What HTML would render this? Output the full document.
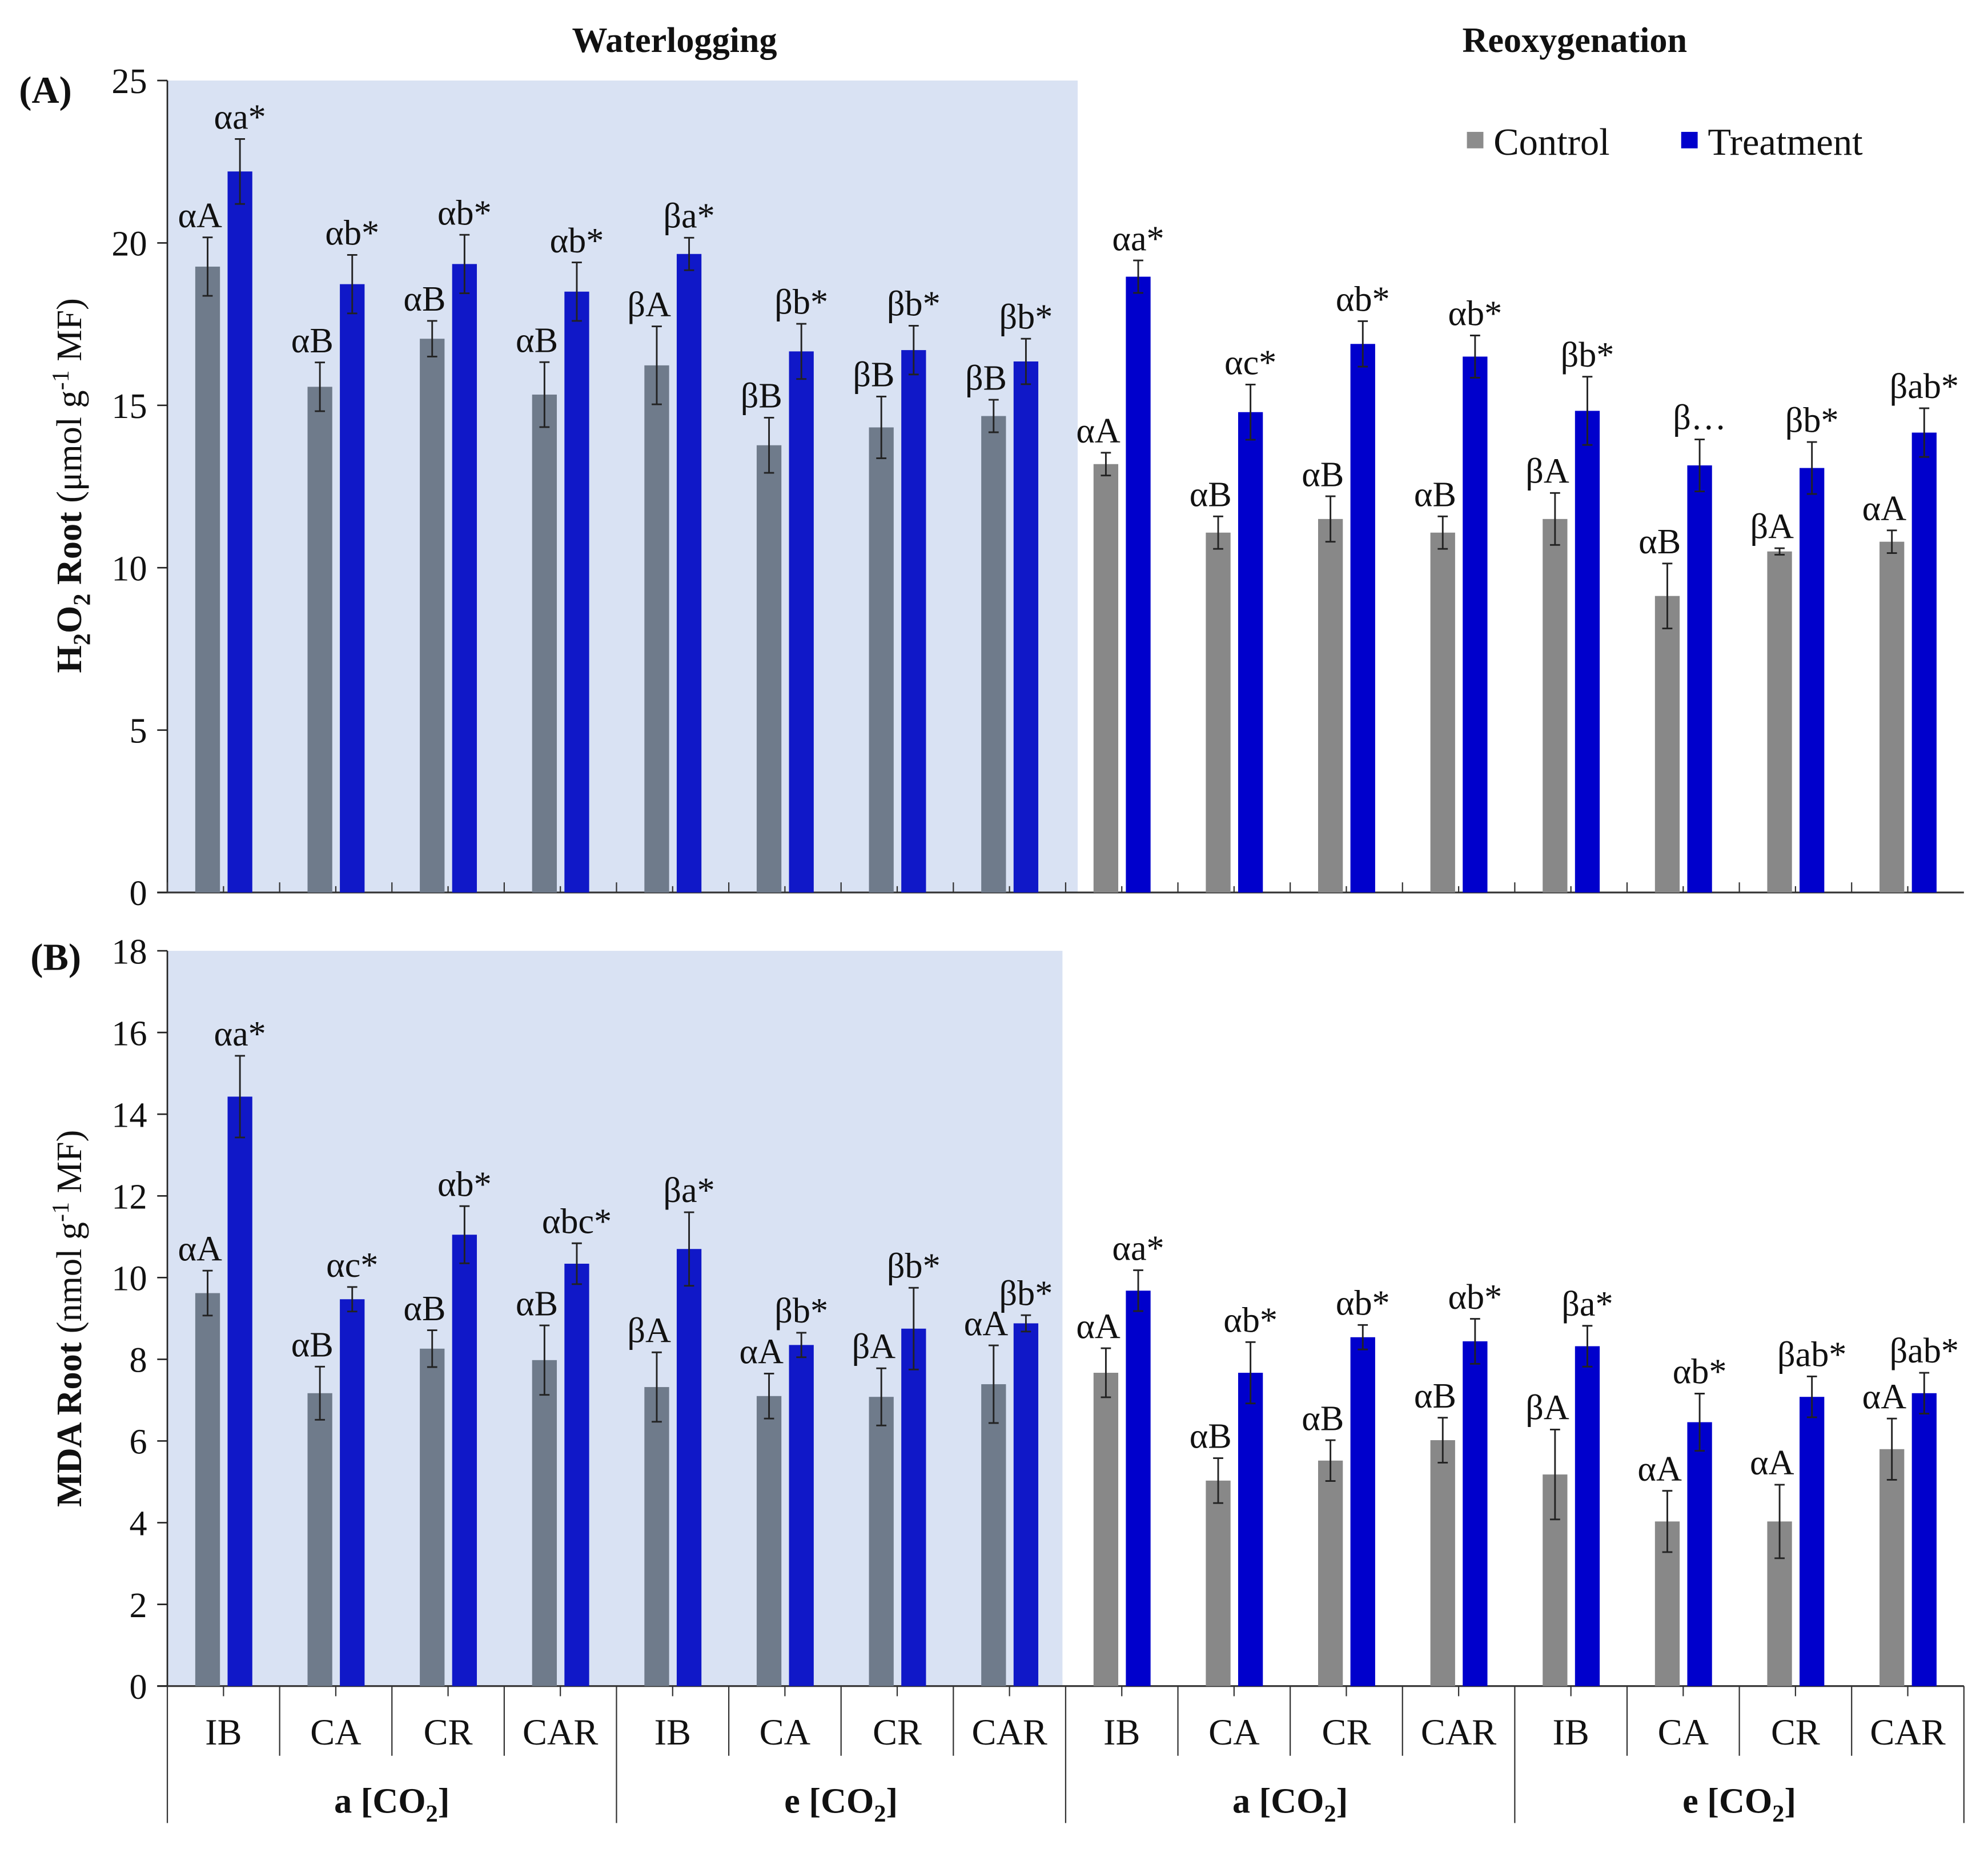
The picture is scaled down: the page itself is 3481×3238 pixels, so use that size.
<!DOCTYPE html>
<html><head><meta charset="utf-8"><style>
html,body{margin:0;padding:0;background:#fff;}
svg{display:block;font-family:"Liberation Serif",serif;}
</style></head><body>
<svg id="chart" width="3481" height="3238" viewBox="0 0 1568 1458.5" xmlns="http://www.w3.org/2000/svg">
<rect x="0" y="0" width="1568" height="1458.5" fill="#fff"/>
<g id="root"></g>
</svg>
<script>
const categories = ["IB","CA","CR","CAR","IB","CA","CR","CAR","IB","CA","CR","CAR","IB","CA","CR","CAR"];
const groupLabels = ["a", "e", "a", "e"];
const yTicksA = [0,5,10,15,20,25];
const yTicksB = [0,2,4,6,8,10,12,14,16,18];
const h2o2Control = [19.27,15.57,17.05,15.33,16.23,13.77,14.32,14.67,13.19,11.08,11.5,11.08,11.5,9.13,10.5,10.8];
const h2o2ControlErr = [0.9,0.75,0.55,1.0,1.2,0.85,0.95,0.5,0.35,0.5,0.7,0.5,0.8,1.0,0.1,0.35];
const h2o2Treat = [22.2,18.73,19.35,18.5,19.66,16.66,16.7,16.35,18.96,14.79,16.89,16.5,14.83,13.15,13.07,14.16];
const h2o2TreatErr = [1.0,0.9,0.9,0.9,0.5,0.85,0.75,0.7,0.5,0.85,0.7,0.65,1.05,0.8,0.8,0.75];
const h2o2CtrlLabels = ["αA","αB","αB","αB","βA","βB","βB","βB","αA","αB","αB","αB","βA","αB","βA","αA"];
const h2o2TreatLabels = ["αa*","αb*","αb*","αb*","βa*","βb*","βb*","βb*","αa*","αc*","αb*","αb*","βb*","β…","βb*","βab*"];
const mdaControl = [9.62,7.17,8.26,7.98,7.32,7.1,7.08,7.39,7.67,5.03,5.52,6.02,5.18,4.03,4.03,5.8];
const mdaControlErr = [0.55,0.65,0.45,0.85,0.85,0.55,0.7,0.95,0.6,0.55,0.5,0.55,1.1,0.75,0.9,0.75];
const mdaTreat = [14.43,9.47,11.05,10.34,10.7,8.35,8.75,8.88,9.68,7.67,8.54,8.44,8.32,6.46,7.08,7.17];
const mdaTreatErr = [1.0,0.3,0.7,0.5,0.9,0.3,1.0,0.2,0.5,0.75,0.3,0.55,0.5,0.7,0.5,0.5];
const mdaCtrlLabels = ["αA","αB","αB","αB","βA","αA","βA","αA","αA","αB","αB","αB","βA","αA","αA","αA"];
const mdaTreatLabels = ["αa*","αc*","αb*","αbc*","βa*","βb*","βb*","βb*","αa*","αb*","αb*","αb*","βa*","αb*","βab*","βab*"];

const NS="http://www.w3.org/2000/svg";
const root=document.getElementById('root');
function el(tag,attrs,parent){const e=document.createElementNS(NS,tag);for(const k in attrs)e.setAttribute(k,attrs[k]);(parent||root).appendChild(e);return e;}
const X0=132, X1=1549, catW=(X1-X0)/categories.length;
function xCat(i){return X0+i*catW;}

function panel(cfg){
  const g=el('g',{});
  
  
  const y=v=>cfg.y0-(v/cfg.max)*(cfg.y0-cfg.yTop);
  const shade=el('rect',{x:X0,y:cfg.yTop,width:cfg.shadeRight-X0,height:cfg.y0-cfg.yTop,fill:'#d9e2f3'},g);
  
  
  el('line',{x1:X0,y1:cfg.yTop,x2:X0,y2:cfg.y0,stroke:'#222','stroke-width':1.2},g);
  el('line',{x1:X0-8,y1:cfg.y0,x2:X1,y2:cfg.y0,stroke:'#333','stroke-width':1.4},g);
  cfg.ticks.forEach(t=>{
    el('line',{x1:X0-8,y1:y(t),x2:X0,y2:y(t),stroke:'#222','stroke-width':1.2},g);
    const tx=el('text',{x:X0-16,y:y(t)+10,'font-size':28,'text-anchor':'end',fill:'#111'},g);
    tx.textContent=t;
    
    
  });
  for(let i=0;i<categories.length;i++){
    const c=xCat(i);
    const gx=c+22, bx=c+47.5, bw=19.5;
    const ctrlCol = i<8 ? '#6f7b8b' : '#888888';
    const treatCol = i<8 ? '#1018c8' : '#0000cc';
    const r1=el('rect',{x:gx,y:y(cfg.ctrl[i]),width:bw,height:cfg.y0-y(cfg.ctrl[i]),fill:ctrlCol},g);
    
    
    const r2=el('rect',{x:bx,y:y(cfg.treat[i]),width:bw,height:cfg.y0-y(cfg.treat[i]),fill:treatCol},g);
    
    
    [[gx+bw/2,cfg.ctrl[i],cfg.ctrlErr[i],cfg.ctrlLab[i],-6],[bx+bw/2,cfg.treat[i],cfg.treatErr[i],cfg.treatLab[i],0]].forEach(([cx,v,e,lab,off])=>{
      const eg=el('g',{stroke:'#222','stroke-width':1.3},g);
      
      
      el('line',{x1:cx,y1:y(v+e),x2:cx,y2:y(v-e)},eg);
      el('line',{x1:cx-4,y1:y(v+e),x2:cx+4,y2:y(v+e)},eg);
      el('line',{x1:cx-4,y1:y(v-e),x2:cx+4,y2:y(v-e)},eg);
      const t=el('text',{x:cx+off,y:y(v+e)-8,'font-size':28,'text-anchor':'middle',fill:'#111'},g);
      t.textContent=lab;
      
      
    });
    if(cfg.innerTicks){
      el('line',{x1:c,y1:cfg.y0,x2:c,y2:cfg.y0-8,stroke:'#333','stroke-width':1},g);
      el('line',{x1:c+catW/2,y1:cfg.y0,x2:c+catW/2,y2:cfg.y0-5,stroke:'#333','stroke-width':1},g);
    }
  }
  return y;
}

panel({name:'panel-a-h2o2',y0:704,yTop:63.5,max:25,ticks:yTicksA,shadeRight:850,ctrl:h2o2Control,ctrlErr:h2o2ControlErr,treat:h2o2Treat,treatErr:h2o2TreatErr,ctrlLab:h2o2CtrlLabels,treatLab:h2o2TreatLabels,innerTicks:true});
panel({name:'panel-b-mda',y0:1330,yTop:750,max:18,ticks:yTicksB,shadeRight:838,ctrl:mdaControl,ctrlErr:mdaControlErr,treat:mdaTreat,treatErr:mdaTreatErr,ctrlLab:mdaCtrlLabels,treatLab:mdaTreatLabels,innerTicks:false});

for(let i=0;i<=categories.length;i++){
  const x=xCat(i);
  const major=(i%4===0);
  el('line',{x1:x,y1:1330,x2:x,y2:major?1438:1385,stroke:'#333','stroke-width':1});
  if(i<categories.length){
    el('line',{x1:x+catW/2,y1:1330,x2:x+catW/2,y2:1338,stroke:'#333','stroke-width':1});
    const t=el('text',{x:x+catW/2,y:1376,'font-size':29,'text-anchor':'middle',fill:'#111'});
    t.textContent=categories[i];
    
    
  }
}
groupLabels.forEach((g,k)=>{
  const cx=xCat(k*4+2);
  const t=el('text',{x:cx,y:1430,'font-size':28,'font-weight':'bold','text-anchor':'middle',fill:'#111'});
  t.innerHTML=g+' [CO<tspan font-size="19" dy="7">2</tspan><tspan dy="-7">]</tspan>';
  
  
});

[[532,'Waterlogging'],[1242,'Reoxygenation']].forEach(([x,s])=>{
  const t=el('text',{x:x,y:41,'font-size':28,'font-weight':'bold','text-anchor':'middle',fill:'#111'});
  t.textContent=s;
  
  
});
[[15,81,'(A)'],[24,765,'(B)']].forEach(([x,yy,s])=>{
  const t=el('text',{x:x,y:yy,'font-size':30,'font-weight':'bold',fill:'#111'});
  t.textContent=s;
  
  
});
const ya=el('text',{x:0,y:0,'font-size':28,'text-anchor':'middle',fill:'#111',transform:'translate(64,383) rotate(-90)'});
ya.innerHTML='<tspan font-weight="bold">H<tspan font-size="19" dy="7">2</tspan><tspan dy="-7">O</tspan><tspan font-size="19" dy="7">2</tspan><tspan dy="-7"> Root</tspan></tspan> (μmol g<tspan font-size="19" dy="-10">-1</tspan><tspan dy="10"> MF)</tspan>';


const yb=el('text',{x:0,y:0,'font-size':28,'text-anchor':'middle',fill:'#111',transform:'translate(64,1040) rotate(-90)'});
yb.innerHTML='<tspan font-weight="bold">MDA Root</tspan> (nmol g<tspan font-size="19" dy="-10">-1</tspan><tspan dy="10"> MF)</tspan>';



const lg=el('g',{});


el('rect',{x:1157,y:104,width:13,height:13,fill:'#8c8c8c'},lg);
const lt1=el('text',{x:1178,y:122,'font-size':30,fill:'#111'},lg);
lt1.textContent='Control';


el('rect',{x:1326,y:104,width:13,height:13,fill:'#0000cc'},lg);
const lt2=el('text',{x:1347,y:122,'font-size':30,fill:'#111'},lg);
lt2.textContent='Treatment';


</script>
</body></html>
